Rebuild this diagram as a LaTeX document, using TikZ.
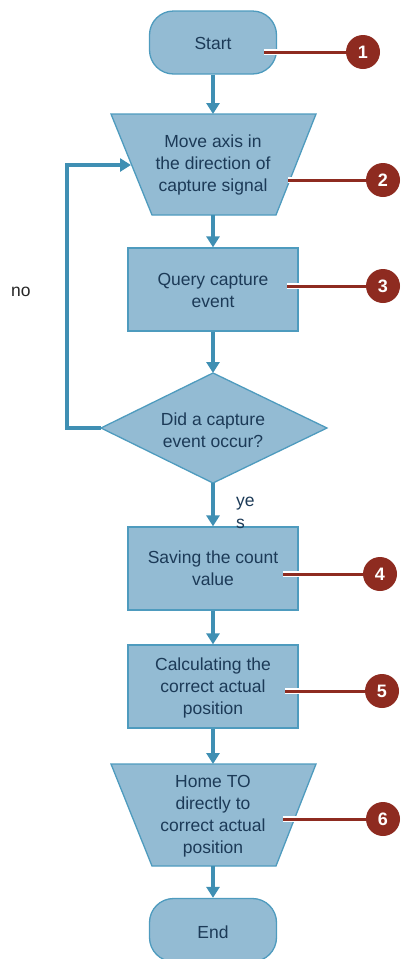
\documentclass[tikz,border=0pt]{standalone}
\usepackage{fontspec}
\setmainfont{Liberation Sans}
\usetikzlibrary{arrows.meta}
\definecolor{boxfill}{HTML}{93BBD3}
\definecolor{boxline}{HTML}{4E9BBE}
\definecolor{arrowc}{HTML}{3F8FB3}
\definecolor{txt}{HTML}{1C3A57}
\definecolor{callred}{HTML}{8E2B20}
\tikzset{
  shapebox/.style={draw=boxline, fill=boxfill, line width=1.3pt},
  rectbox/.style={shapebox, rectangle, minimum width=170pt, minimum height=83pt, inner sep=0pt},
  termbox/.style={shapebox, rectangle, rounded corners=24pt, minimum width=127pt, minimum height=63pt, inner sep=0pt},
  label/.style={text=txt, font=\fontsize{17.5}{22}\selectfont, align=center, inner sep=0pt},
  flow/.style={draw=arrowc, line width=3.2pt, -{Triangle[width=13pt,length=11pt]}},
  callline/.style={draw=callred, line width=3pt, preaction={draw=white, line width=5.5pt}},
  callnum/.style={circle, fill=callred, minimum size=34pt, inner sep=0pt, text=white, font=\fontsize{18}{18}\selectfont\bfseries},
}
\begin{document}
\begin{tikzpicture}[x=1pt,y=-1pt]
\useasboundingbox (0,0) rectangle (400,959);
% Start
\node[termbox] (start) at (213,42.5) {};
\node[label] (starttxt) at (213,43) {Start};
% Trapezoid 1
\draw[shapebox] (111,114) -- (316,114) -- (276,215) -- (152,215) -- cycle;
\node[label] (move) at (213,165) {Move axis in\\the direction of\\capture signal};
\coordinate (moveL) at (131,165);
\coordinate (moveT) at (213,114);
\coordinate (moveB) at (213,215);
% Query
\node[rectbox] (query) at (213,289.5) {};
\node[label] (querytxt) at (213,290) {Query capture\\event};
% Diamond
\draw[shapebox] (213,373) -- (327,428) -- (213,483) -- (101,428) -- cycle;
\node[label] (dec) at (213,430) {Did a capture\\event occur?};
\coordinate (decT) at (213,373);
\coordinate (decB) at (213,483);
\coordinate (decL) at (101,428);
\coordinate (loopA) at (67,428);
\coordinate (loopB) at (67,165);
% Saving
\node[rectbox] (save) at (213,568.5) {};
\node[label] (savetxt) at (213,568) {Saving the count\\value};
% Calculating
\node[rectbox] (calc) at (213,686.5) {};
\node[label] (calctxt) at (213,688) {Calculating the\\correct actual\\position};
% Home trapezoid
\draw[shapebox] (111,764) -- (316,764) -- (276,866) -- (152,866) -- cycle;
\node[label] (home) at (213,816.5) {Home TO\\directly to\\correct actual\\position};
\coordinate (homeT) at (213,764);
\coordinate (homeB) at (213,866);
% End
\node[termbox] (end) at (213,930) {};
\node[label] (endtxt) at (213,932) {End};
% labels
\node[label, text=black!85, anchor=west] (no) at (11,292) {no};
\node[label, anchor=north west, align=left] (yes) at (236,497) {ye\\s};
% flow arrows
\draw[flow] (start.south) -- (moveT);
\draw[flow] (moveB) -- (query.north);
\draw[flow] (query.south) -- (decT);
\draw[flow] (decB) -- (save.north);
\draw[flow] (save.south) -- (calc.north);
\draw[flow] (calc.south) -- (homeT);
\draw[flow] (homeB) -- (end.north);
\draw[flow] (decL) -- (loopA) -- (loopB) -- (moveL);
% callouts
\node[callnum] (c1) at (363,52) {1};
\node[callnum] (c2) at (383,180) {2};
\node[callnum] (c3) at (383,286) {3};
\node[callnum] (c4) at (380,574) {4};
\node[callnum] (c5) at (382,691) {5};
\node[callnum] (c6) at (383,819) {6};
\coordinate (p1) at (264,52);
\coordinate (p2) at (288,180);
\coordinate (p3) at (287,286);
\coordinate (p4) at (283,574);
\coordinate (p5) at (285,691);
\coordinate (p6) at (283,819);
\foreach \i in {1,...,6} {\draw[callline] (p\i) -- (c\i.west);}
\end{tikzpicture}
\end{document}
